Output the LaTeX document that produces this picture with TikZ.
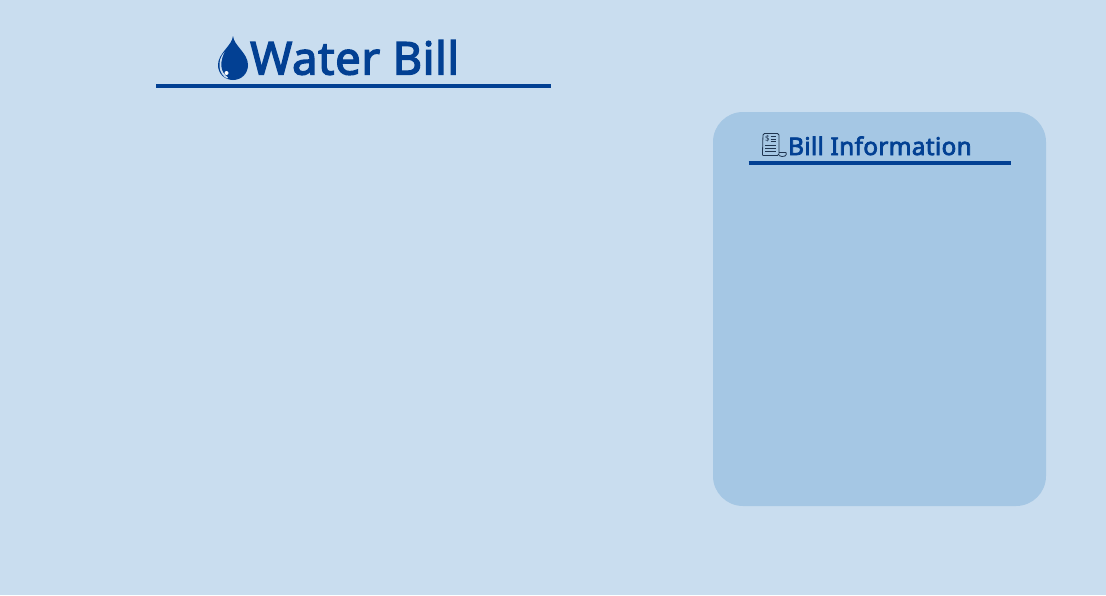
\documentclass[tikz,border=0pt]{standalone}
\usepackage{fontspec}
\setmainfont{Noto Sans}
\newfontfamily\semibolder[FakeBold=3,LetterSpace=1.5]{Noto Sans}
\definecolor{bgblue}{HTML}{C9DDEF}
\definecolor{panelblue}{HTML}{A5C7E4}
\definecolor{inkblue}{HTML}{024093}
\definecolor{iconink}{HTML}{1F3550}
\tikzset{
  titletext/.style={inner sep=0pt,anchor=base west,text=inkblue,font=\semibolder\fontsize{45.3}{46}\selectfont},
  headtext/.style={inner sep=0pt,anchor=base west,text=inkblue,font=\semibolder\fontsize{24.3}{25}\selectfont},
  rulea/.style={draw=inkblue,line width=4pt},
  iconline/.style={draw=iconink,line width=0.8pt},
}
\begin{document}
\begin{tikzpicture}[x=1pt,y=-1pt]
\useasboundingbox (0,0) rectangle (1106,595);
\fill[bgblue] (0,0) rectangle (1106,595);
% panel
\fill[panelblue,rounded corners=30pt] (713,112) rectangle (1046,506);
% title
\node[titletext] (title) at (250,74.5) {Water Bill};
\coordinate (ruleAstart) at (156,85.5);
\coordinate (ruleAend) at (550.5,85.5);
\draw[rulea] (ruleAstart) -- (ruleAend);
% drop
\fill[inkblue] (233,36) .. controls (234,46) and (248,53) .. (248,65) .. controls (248,74) and (241,80) .. (233,80)
  .. controls (225,80) and (218,74) .. (218,65) .. controls (218,53) and (232,46) .. (233,36) -- cycle;
\fill[bgblue] (224.5,52) .. controls (220,57) and (219.2,62) .. (219.6,67) .. controls (220,72) and (223,76.5) .. (227,78.5)
  -- (228,77.5) .. controls (224,74.5) and (221.5,71) .. (221.3,66) .. controls (221,61) and (222.5,56) .. (224.5,52) -- cycle;
\fill[white] (226.5,73) circle (2pt);
% panel head
\node[headtext] (head) at (788,155) {Bill Information};
\coordinate (ruleBstart) at (748.5,162.5);
\coordinate (ruleBend) at (1011,162.5);
\draw[rulea] (ruleBstart) -- (ruleBend);
% receipt icon
\draw[iconline,rounded corners=1.5pt] (763,133.5) -- (779,133.5) -- (779,155.5) -- (764.5,155.5)
  .. controls (763,155.5) and (762.5,154.5) .. (762.5,153) -- cycle;
\draw[iconline] (779,152.5) -- (786,152.5) .. controls (786.5,154) and (786.5,155) .. (785,156);
\draw[iconline] (779,155.5) .. controls (781,156.8) and (783,156.8) .. (785,156);
\foreach \yy in {136.5,139,141.5}{\draw[iconline,line width=0.7pt] (770.5,\yy) -- (776,\yy);}
\foreach \yy in {145,148,151}{\draw[iconline,line width=0.7pt] (765,\yy) -- (776,\yy);}
\node[inner sep=0pt,text=iconink,font=\rmfamily\fontsize{8}{8}\selectfont] (dollar) at (767.3,139) {\$};
\end{tikzpicture}
\end{document}
